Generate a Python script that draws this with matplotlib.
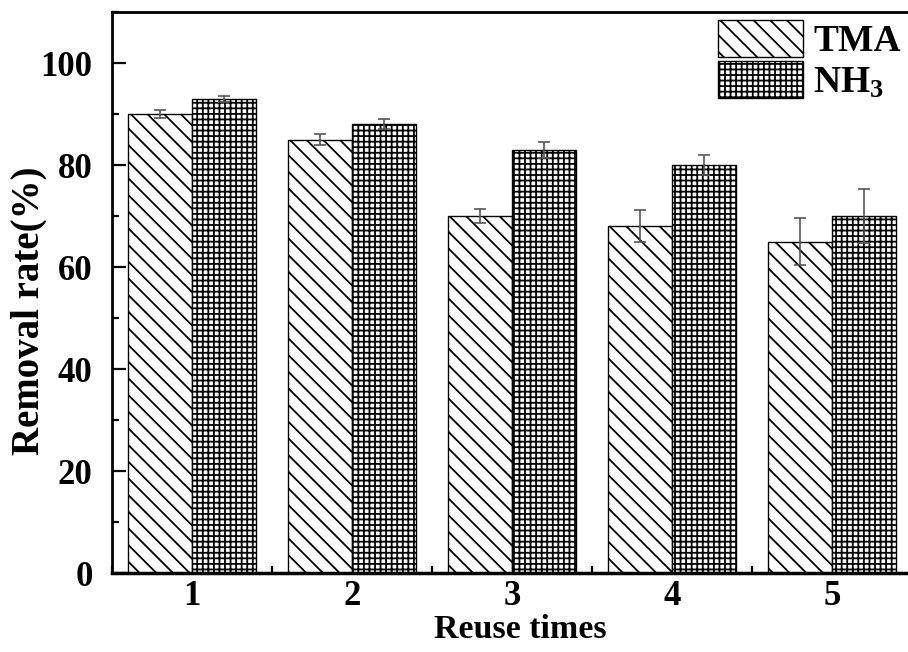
import matplotlib
matplotlib.use("Agg")
import matplotlib.pyplot as plt
import numpy as np
from matplotlib.ticker import MultipleLocator

plt.rcParams["font.family"] = ["Liberation Serif", "DejaVu Serif"]
plt.rcParams["font.weight"] = "bold"
plt.rcParams["mathtext.fontset"] = "custom"
plt.rcParams["mathtext.rm"] = "Liberation Serif:bold"
plt.rcParams["mathtext.it"] = "Liberation Serif:bold"
plt.rcParams["mathtext.bf"] = "Liberation Serif:bold"
plt.rcParams["mathtext.default"] = "rm"
plt.rcParams["hatch.linewidth"] = 1.3

# Data
reuse_times = [1, 2, 3, 4, 5]
tma_removal = [90, 85, 70, 68, 65]
tma_err = [0.8, 1.1, 1.3, 3.1, 4.6]
nh3_removal = [93, 88, 83, 80, 70]
nh3_err = [0.6, 1.0, 1.6, 2.0, 5.3]
series_labels = ["TMA", "NH$_3$"]

W, H = 908, 652
fig = plt.figure(figsize=(W / 100, H / 100), dpi=100)
ax = fig.add_axes([112 / W, (H - 573) / H, 800 / W, 561 / H])

x = np.array(reuse_times, dtype=float)
bw = 0.4
ax.bar(x - bw / 2, tma_removal, bw, color="white", edgecolor="black",
       linewidth=1.0, hatch="\\\\", label=series_labels[0], zorder=2)
ax.bar(x + bw / 2, nh3_removal, bw, color="white", edgecolor="black",
       linewidth=1.0, hatch="+++", label=series_labels[1], zorder=2)
ax.errorbar(x - bw / 2, tma_removal, yerr=tma_err, fmt="none", ecolor="#555555",
            elinewidth=1.2, capsize=4, capthick=1.2, zorder=3)
ax.errorbar(x + bw / 2, nh3_removal, yerr=nh3_err, fmt="none", ecolor="#555555",
            elinewidth=1.2, capsize=4, capthick=1.2, zorder=3)

ax.set_xlim(0.5, 5.5)
ax.set_ylim(0, 110)
ax.set_xticks(reuse_times)
ax.xaxis.set_minor_locator(MultipleLocator(0.5))
ax.yaxis.set_major_locator(MultipleLocator(20))
ax.yaxis.set_minor_locator(MultipleLocator(10))
ax.set_yticks([0, 20, 40, 60, 80, 100])

ax.tick_params(axis="both", which="major", direction="in", length=10, width=1.6,
               labelsize=25)
ax.tick_params(axis="y", which="major", pad=14)
ax.tick_params(axis="x", which="major", length=0, pad=5)
ax.tick_params(axis="both", which="minor", direction="in", length=5, width=1.6)

for side in ["left", "top"]:
    ax.spines[side].set_linewidth(2.0)
ax.spines["bottom"].set_linewidth(2.5)
ax.spines["right"].set_visible(False)

ax.set_xlabel("Reuse times", fontsize=24.5, fontweight="bold")
ax.set_ylabel("Removal rate(%)", fontsize=28, fontweight="bold")
ax.xaxis.set_label_coords(0.511, -0.073)
ax.yaxis.set_label_coords(-0.081, 0.468)

ax.legend(loc="upper left", bbox_to_anchor=(718 / W, 1 - 20 / H),
          bbox_transform=fig.transFigure, frameon=False, fontsize=27,
          handlelength=2.27, handleheight=1.15, handletextpad=0.27,
          labelspacing=0.05, borderpad=0, borderaxespad=0)

fig.savefig("out.png", dpi=100)
